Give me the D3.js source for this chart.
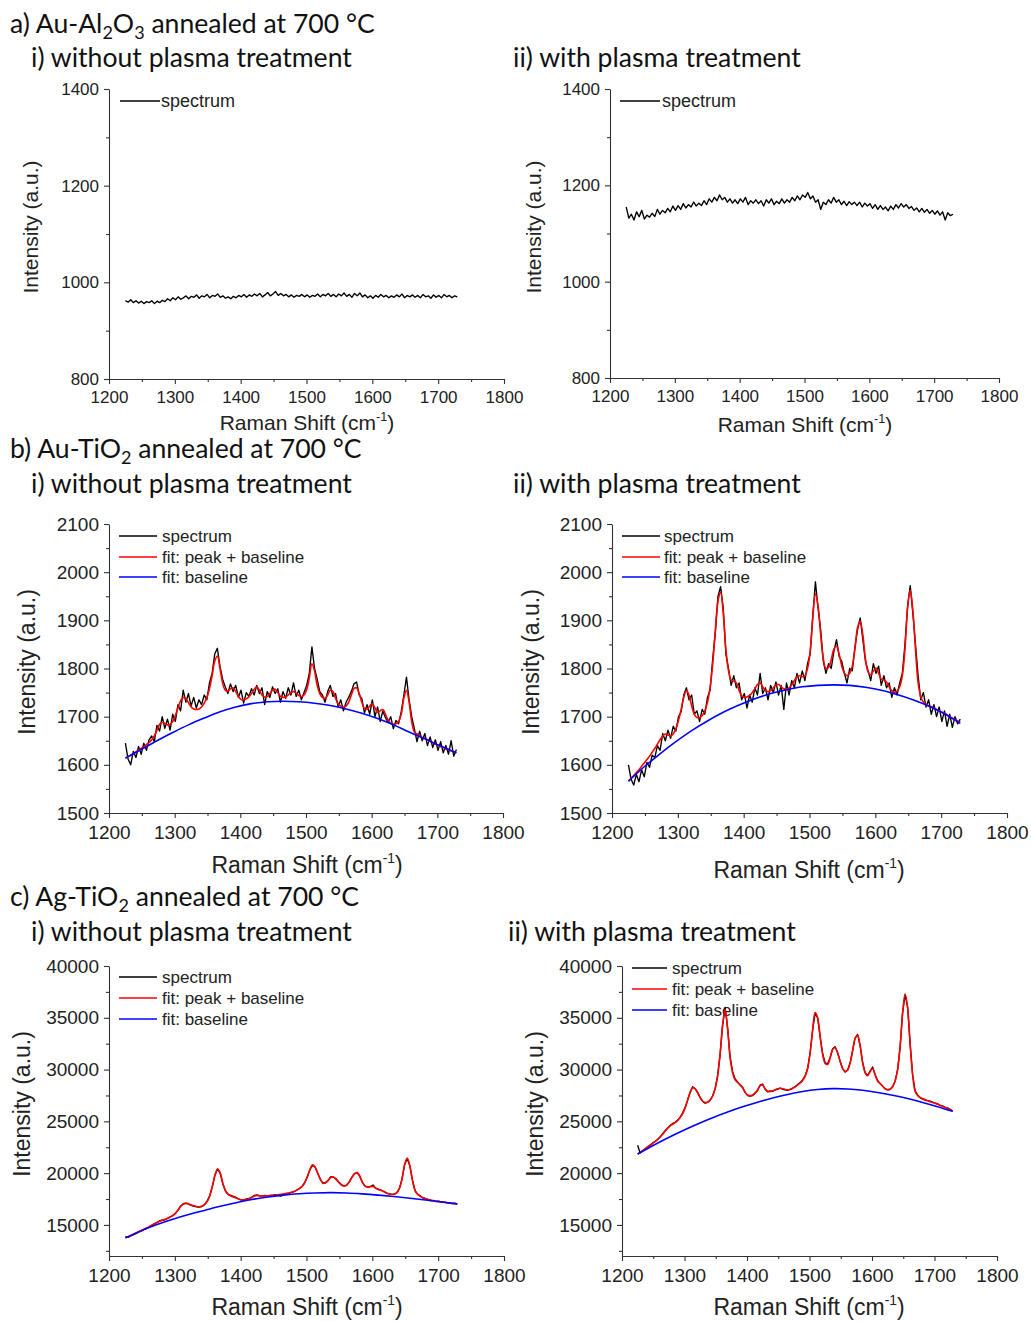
<!DOCTYPE html>
<html>
<head>
<meta charset="utf-8">
<script src="https://cdn.jsdelivr.net/npm/d3@7"></script>
<style>
  body { margin: 0; background: #fff; }
  svg { display: block; }
</style>
</head>
<body>
<svg id="chart" width="1031" height="1322"></svg>
<script>
// Raman shift grids (cm-1)
const shift = d3.range(1225, 1730, 4)
const baseShift = d3.range(1225, 1730, 24)
const xMajor = [1200, 1300, 1400, 1500, 1600, 1700, 1800]
const xMinor = [1250, 1350, 1450, 1550, 1650, 1750]

// a) Au-Al2O3
const auAlNoPlasma = [
  962, 959, 964, 958, 962, 957, 961, 956, 960, 958,
  962, 956, 961, 958, 963, 960, 966, 962, 968, 964,
  970, 965, 968, 972, 966, 971, 969, 974, 967, 972,
  970, 975, 968, 973, 971, 976, 969, 972, 967, 970,
  966, 971, 968, 973, 970, 975, 969, 974, 971, 976,
  972, 977, 970, 974, 979, 972, 976, 981, 973, 977,
  972, 975, 970, 974, 969, 973, 971, 975, 970, 974,
  969, 973, 971, 976, 970, 975, 972, 977, 971, 975,
  970, 976, 972, 978, 971, 975, 969, 977, 972, 978,
  970, 974, 968, 972, 967, 973, 969, 975, 970, 973,
  968, 972, 969, 974, 970, 976, 968, 973, 970, 974,
  969, 973, 968, 975, 970, 972, 967, 974, 969, 973,
  968, 975, 970, 973, 968, 972, 970
]
const auAlPlasma = [
  1155, 1132, 1140, 1128, 1145, 1135, 1148, 1130, 1138, 1134,
  1142, 1135, 1150, 1140, 1148, 1143, 1152, 1145, 1157, 1148,
  1158, 1150, 1162, 1153, 1160, 1155, 1165, 1157, 1163, 1158,
  1168, 1160, 1172, 1165, 1175, 1168, 1180, 1170, 1175, 1165,
  1172, 1163, 1170, 1162, 1172, 1165, 1175, 1160, 1168, 1163,
  1170, 1162, 1168, 1157, 1170, 1163, 1172, 1160, 1167, 1162,
  1172, 1163, 1170, 1165, 1175, 1168, 1178, 1170, 1180, 1175,
  1185, 1172, 1178, 1165, 1170, 1150, 1165, 1160, 1170, 1163,
  1175, 1165, 1170, 1160, 1167, 1158, 1166, 1160, 1165, 1158,
  1165, 1155, 1163, 1157, 1162, 1152, 1160, 1150, 1158, 1150,
  1155, 1147, 1157, 1150, 1160, 1153, 1162, 1155, 1160, 1152,
  1156, 1148, 1153, 1145, 1152, 1144, 1150, 1142, 1148, 1140,
  1147, 1138, 1145, 1128, 1143, 1137, 1140
]

// b) Au-TiO2
const auTiNoPlasma = [
  1645, 1612, 1600, 1628, 1615, 1638, 1622, 1645, 1630, 1652,
  1660, 1648, 1682, 1670, 1700, 1676, 1695, 1672, 1705, 1690,
  1725, 1712, 1755, 1730, 1748, 1722, 1740, 1718, 1735, 1725,
  1745, 1735, 1770, 1790, 1830, 1842, 1805, 1778, 1762, 1748,
  1768, 1752, 1765, 1740, 1755, 1728, 1750, 1742, 1758, 1745,
  1765, 1748, 1760, 1725, 1752, 1740, 1762, 1748, 1758, 1730,
  1752, 1738, 1760, 1745, 1770, 1742, 1755, 1735, 1750, 1765,
  1790, 1845, 1800, 1778, 1752, 1745, 1730, 1752, 1765, 1742,
  1748, 1720, 1735, 1712, 1730, 1740, 1752, 1768, 1772, 1745,
  1738, 1708, 1725, 1705, 1735, 1700, 1720, 1690, 1712, 1698,
  1688, 1700, 1675, 1692, 1685, 1710, 1745, 1782, 1735, 1700,
  1675, 1648, 1670, 1650, 1665, 1640, 1658, 1636, 1652, 1630,
  1648, 1625, 1640, 1622, 1650, 1618, 1632
]
const auTiNoPlasmaFit = [
  1614, 1617, 1620, 1623, 1627, 1631, 1634, 1638, 1642, 1646,
  1652, 1660, 1672, 1684, 1688, 1686, 1683, 1684, 1690, 1702,
  1718, 1733, 1740, 1738, 1729, 1720, 1716, 1715, 1716, 1720,
  1728, 1740, 1758, 1785, 1815, 1826, 1800, 1770, 1755, 1753,
  1758, 1760, 1752, 1742, 1736, 1735, 1737, 1741, 1748, 1757,
  1762, 1755, 1745, 1741, 1742, 1748, 1755, 1757, 1750, 1742,
  1740, 1741, 1745, 1750, 1752, 1749, 1744, 1742, 1745, 1756,
  1780, 1810, 1795, 1765, 1748, 1740, 1738, 1745, 1755, 1752,
  1738, 1727, 1722, 1720, 1722, 1730, 1745, 1758, 1760, 1748,
  1730, 1717, 1715, 1722, 1727, 1718, 1709, 1712, 1715, 1705,
  1693, 1686, 1684, 1685, 1690, 1705, 1738, 1755, 1730, 1690,
  1668, 1664, 1660, 1657, 1655, 1652, 1649, 1646, 1643, 1640,
  1638, 1636, 1633, 1631, 1629, 1627, 1625
]
const auTiNoPlasmaBase = [
  1614, 1632, 1650, 1667, 1683, 1697, 1710, 1720, 1727, 1731, 1732,
  1731, 1728, 1723, 1716, 1707, 1696, 1683, 1668, 1654, 1639, 1625
]
const auTiPlasma = [
  1600, 1570, 1558, 1580, 1565, 1590, 1575, 1605, 1595, 1620,
  1615, 1640, 1630, 1665, 1650, 1672, 1655, 1680, 1670, 1700,
  1710, 1745, 1760, 1735, 1745, 1705, 1712, 1690, 1715, 1705,
  1740, 1755, 1820, 1875, 1950, 1970, 1925, 1830, 1800, 1765,
  1785, 1760, 1770, 1735, 1748, 1718, 1745, 1730, 1760, 1745,
  1790, 1748, 1760, 1735, 1765, 1750, 1772, 1745, 1765, 1715,
  1770, 1745, 1775, 1760, 1790, 1770, 1795, 1775, 1810, 1830,
  1910, 1980, 1925, 1880, 1815, 1790, 1810, 1800, 1835, 1860,
  1825, 1815, 1790, 1770, 1800, 1795, 1845, 1880, 1905, 1860,
  1815, 1795, 1775, 1810, 1790, 1805, 1765, 1785, 1760, 1770,
  1740, 1760, 1745, 1770, 1790, 1850, 1930, 1972, 1915, 1850,
  1785, 1735, 1750, 1720, 1735, 1705, 1725, 1700, 1720, 1690,
  1712, 1680, 1705, 1678, 1700, 1685, 1695
]
const auTiPlasmaFit = [
  1566, 1572, 1578, 1584, 1590, 1597, 1604, 1611, 1618, 1626,
  1634, 1643, 1652, 1660, 1664, 1662, 1660, 1664, 1675, 1692,
  1715, 1740, 1754, 1745, 1722, 1705, 1698, 1698, 1702, 1712,
  1730, 1760, 1810, 1880, 1940, 1958, 1915, 1840, 1795, 1776,
  1774, 1770, 1755, 1743, 1740, 1741, 1744, 1750, 1758, 1767,
  1770, 1762, 1754, 1752, 1754, 1760, 1766, 1767, 1762, 1758,
  1757, 1760, 1766, 1775, 1783, 1785, 1783, 1785, 1800, 1835,
  1905, 1955, 1930, 1870, 1820, 1800, 1802, 1818, 1840, 1846,
  1830, 1805, 1790, 1785, 1790, 1805, 1840, 1885, 1898, 1870,
  1820, 1793, 1787, 1795, 1801, 1790, 1778, 1776, 1772, 1762,
  1754, 1751, 1753, 1762, 1785, 1840, 1925, 1963, 1920, 1840,
  1770, 1742, 1730, 1726, 1722, 1721, 1718, 1715, 1712, 1709,
  1707, 1704, 1700, 1697, 1694, 1691, 1688
]
const auTiPlasmaBase = [
  1566, 1596, 1623, 1648, 1671, 1691, 1709, 1724, 1737, 1748, 1756,
  1762, 1765, 1766, 1765, 1761, 1755, 1746, 1735, 1722, 1706, 1686
]

// c) Ag-TiO2
const agTiNoPlasma = [
  13900, 13800, 13950, 14050, 14150, 14300, 14400, 14550, 14650, 14800,
  14950, 15100, 15250, 15400, 15450, 15500, 15620, 15780, 15900, 16100,
  16450, 16850, 17000, 17080, 17000, 16900, 16800, 16750, 16730, 16780,
  16950, 17300, 17800, 18750, 19850, 20400, 19950, 18950, 18250, 17950,
  17850, 17750, 17650, 17500, 17400, 17450, 17500, 17550, 17700, 17850,
  17900, 17800, 17780, 17850, 17800, 17860, 17880, 17920, 17850, 17780,
  17950, 18050, 18050, 18150, 18200, 18350, 18500, 18700, 19050, 19600,
  20300, 20750, 20600, 20000, 19400, 19000, 19100, 19300, 19650, 19600,
  19450, 19150, 18900, 18750, 18850, 19150, 19600, 19950, 20050, 19700,
  19100, 18750, 18650, 18700, 18850, 18550, 18450, 18350, 18250, 18100,
  18000, 17950, 17950, 18100, 18500, 19400, 20800, 21400, 20700, 19300,
  18300, 17950, 17800, 17600, 17550, 17450, 17350, 17350, 17250, 17300,
  17200, 17200, 17150, 17100, 17050, 17100, 17000
]
const agTiNoPlasmaFit = [
  13750, 13860, 13980, 14100, 14220, 14340, 14460, 14580, 14700, 14830,
  14970, 15110, 15240, 15350, 15450, 15540, 15640, 15760, 15920, 16150,
  16450, 16800, 17050, 17120, 17030, 16920, 16850, 16780, 16760, 16800,
  16950, 17250, 17800, 18700, 19800, 20400, 20000, 19000, 18300, 17950,
  17800, 17700, 17600, 17500, 17430, 17420, 17450, 17530, 17650, 17800,
  17850, 17800, 17800, 17800, 17810, 17830, 17860, 17890, 17920, 17950,
  17990, 18030, 18080, 18150, 18240, 18360, 18500, 18700, 19050, 19600,
  20300, 20800, 20600, 20000, 19400, 19050, 19050, 19300, 19600, 19620,
  19400, 19100, 18850, 18750, 18850, 19150, 19600, 19950, 20050, 19700,
  19100, 18750, 18650, 18700, 18720, 18560, 18420, 18350, 18230, 18100,
  18000, 17960, 17980, 18100, 18500, 19400, 20800, 21450, 20700, 19300,
  18300, 17950, 17750, 17620, 17530, 17460, 17400, 17350, 17300, 17260,
  17230, 17190, 17150, 17110, 17080, 17050, 17030
]
const agTiNoPlasmaBase = [
  13750, 14450, 15050, 15550, 16000, 16400, 16800, 17150, 17450, 17700, 17880,
  18010, 18090, 18120, 18090, 18000, 17880, 17740, 17580, 17400, 17220, 17030
]
const agTiPlasma = [
  22700, 21950, 22150, 22350, 22550, 22700, 22900, 23050, 23250, 23500,
  23800, 24100, 24350, 24600, 24800, 24900, 25100, 25400, 25800, 26350,
  27050, 27800, 28350, 28150, 27800, 27300, 26950, 26750, 26850, 27050,
  27450, 28150, 29400, 31500, 34300, 36000, 34000, 31200, 29800, 29100,
  28800, 28500, 28300, 27800, 27500, 27450, 27500, 27700, 28000, 28500,
  28600, 28100, 27850, 27950, 27900, 28050, 28100, 28200, 28100, 28050,
  28000, 28100, 28200, 28350, 28550, 28750, 29000, 29400, 30100, 31650,
  33800, 35450, 35000, 33200, 31550, 30650, 30550, 31150, 32000, 32200,
  31650, 30800, 30100, 29750, 29950, 30650, 31850, 33050, 33400, 32300,
  30700, 29700, 29450, 29850, 30250, 29500, 28950, 28650, 28400, 28150,
  28050, 28100, 28350, 28900, 30000, 32200, 35500, 37250, 36000, 32500,
  29500, 27950, 27550, 27300, 27200, 27100, 27000, 26950, 26850, 26750,
  26700, 26550, 26500, 26350, 26300, 26150, 26000
]
const agTiPlasmaFit = [
  21850, 22000, 22170, 22340, 22520, 22700, 22880, 23060, 23250, 23480,
  23750, 24050, 24330, 24560, 24720, 24880, 25100, 25380, 25750, 26300,
  27050, 27800, 28250, 28150, 27750, 27300, 26950, 26820, 26850, 27050,
  27450, 28150, 29400, 31500, 34300, 35800, 33900, 31100, 29700, 29000,
  28750, 28550, 28250, 27800, 27550, 27480, 27550, 27750, 28050, 28450,
  28500, 28150, 27900, 27880, 27950, 28050, 28150, 28200, 28150, 28080,
  28050, 28080, 28180, 28330, 28500, 28700, 28950, 29350, 30100, 31600,
  33800, 35500, 35000, 33200, 31500, 30600, 30500, 31100, 31950, 32100,
  31600, 30800, 30100, 29820, 29950, 30600, 31800, 33000, 33300, 32300,
  30700, 29700, 29400, 29800, 30100, 29500, 28900, 28650, 28400, 28150,
  28050, 28100, 28350, 28900, 30000, 32200, 35500, 37300, 36000, 32500,
  29500, 27900, 27500, 27300, 27150, 27050, 26980, 26900, 26820, 26740,
  26650, 26550, 26450, 26350, 26240, 26120, 25980
]
const agTiPlasmaBase = [
  21850, 22650, 23400, 24100, 24750, 25350, 25900, 26400, 26850, 27250, 27600,
  27880, 28070, 28160, 28130, 28000, 27790, 27520, 27200, 26830, 26420, 25970
]

const legendNames = ['spectrum', 'fit: peak + baseline', 'fit: baseline']
const colors = ['#000000', '#ff0000', '#0000ff']

const svg = d3.select('#chart')
const AXIS_FONT = '"Liberation Sans", Arial, sans-serif'
const TITLE_FONT = 'Lato, Carlito, Calibri, sans-serif'

function title(x, y, parts) {
    const t = svg.append('text')
        .attr('x', x).attr('y', y)
        .style('font-family', TITLE_FONT)
        .style('font-size', '26.6px')
        .attr('fill', '#111')
    let back = 0
    parts.forEach(p => {
        if (typeof p === 'string') {
            t.append('tspan').attr('dy', -back).text(p)
            back = 0
        } else {
            t.append('tspan').attr('dy', 6 - back).style('font-size', '18px').text(p.sub)
            back = 6
        }
    })
}

function fullSpectrum(vals, fit, base) {
    const out = [{ xs: shift, vs: vals, color: colors[0], w: 1.35, curve: d3.curveLinear }]
    if (fit) out.push({ xs: shift, vs: fit, color: colors[1], w: 1.6, curve: d3.curveCatmullRom })
    if (base) out.push({ xs: baseShift, vs: base, color: colors[2], w: 1.6, curve: d3.curveCatmullRom })
    return out
}

function drawPanel(p) {
    const x = d3.scaleLinear().domain([1200, 1800]).range([p.left, p.right])
    const y = d3.scaleLinear().domain(p.yDomain).range([p.bottom, p.top])
    const g = svg.append('g').attr('class', 'panel')

    g.append('g')
        .attr('transform', `translate(0,${p.bottom})`)
        .call(d3.axisBottom(x).tickValues(xMinor).tickSize(3).tickSizeOuter(0).tickFormat(''))
        .call(a => a.select('.domain').remove())
    g.append('g')
        .attr('transform', `translate(${p.left},0)`)
        .call(d3.axisLeft(y).tickValues(p.yMinor).tickSize(3).tickSizeOuter(0).tickFormat(''))
        .call(a => a.select('.domain').remove())

    g.append('g')
        .attr('transform', `translate(0,${p.bottom})`)
        .call(d3.axisBottom(x).tickValues(xMajor).tickSize(5).tickSizeOuter(0)
            .tickPadding(p.xPad).tickFormat(d3.format('d')))
    g.append('g')
        .attr('transform', `translate(${p.left},0)`)
        .call(d3.axisLeft(y).tickValues(p.yMajor).tickSize(5).tickSizeOuter(0)
            .tickPadding(5).tickFormat(d3.format('d')))

    g.selectAll('.domain, .tick line').attr('stroke', '#333').attr('stroke-width', 1.1)
    g.selectAll('.tick text')
        .style('font-family', AXIS_FONT)
        .style('font-size', p.tick + 'px')
        .attr('fill', '#222')

    // axis titles
    const xl = g.append('text')
        .attr('x', p.xLab[0]).attr('y', p.xLab[1])
        .attr('text-anchor', 'middle')
        .style('font-family', AXIS_FONT).style('font-size', p.lab + 'px')
        .attr('fill', '#222')
    xl.append('tspan').text('Raman Shift (cm')
    xl.append('tspan').attr('dy', -p.lab * 0.42).style('font-size', (p.lab * 0.6) + 'px').text('-1')
    xl.append('tspan').attr('dy', p.lab * 0.42).text(')')

    g.append('text')
        .attr('transform', `translate(${p.yLab[0]},${p.yLab[1]}) rotate(-90)`)
        .attr('text-anchor', 'middle')
        .style('font-family', AXIS_FONT).style('font-size', p.lab + 'px')
        .attr('fill', '#222')
        .text('Intensity (a.u.)')

    // legend
    p.series.forEach((s, i) => {
        const ly = p.legend.ys[i]
        g.append('line')
            .attr('x1', p.legend.x).attr('x2', p.legend.x + p.legend.len)
            .attr('y1', ly).attr('y2', ly)
            .attr('stroke', s.color).attr('stroke-width', 1.5)
        g.append('text')
            .attr('x', p.legend.tx).attr('y', ly).attr('dy', '0.35em')
            .style('font-family', AXIS_FONT).style('font-size', p.legend.size + 'px')
            .attr('fill', '#222')
            .text(legendNames[i])
    })

    // data
    p.series.forEach(s => {
        const line = d3.line()
            .x((d, i) => x(s.xs[i]))
            .y(d => y(d))
            .curve(s.curve)
        g.append('path')
            .datum(s.vs)
            .attr('d', line)
            .attr('fill', 'none')
            .attr('stroke', s.color)
            .attr('stroke-width', s.w)
            .attr('stroke-linejoin', 'round')
    })
}

const aMajor = [800, 1000, 1200, 1400], aMinor = [900, 1100, 1300]
const bMajor = [1500, 1600, 1700, 1800, 1900, 2000, 2100]
const bMinor = [1550, 1650, 1750, 1850, 1950, 2050]
const cMajor = [15000, 20000, 25000, 30000, 35000, 40000]
const cMinor = [12500, 17500, 22500, 27500, 32500, 37500]

const panels = [
    { left: 109, right: 504, top: 89, bottom: 379, yDomain: [800, 1400], yMajor: aMajor, yMinor: aMinor,
      tick: 17, xPad: 7, lab: 21, xLab: [307, 430], yLab: [38, 227],
      legend: { x: 120, len: 40, tx: 161, ys: [101], size: 18 },
      series: fullSpectrum(auAlNoPlasma) },
    { left: 610, right: 999, top: 89, bottom: 378, yDomain: [800, 1400], yMajor: aMajor, yMinor: aMinor,
      tick: 17, xPad: 7, lab: 21, xLab: [805, 432], yLab: [541, 227],
      legend: { x: 620, len: 40, tx: 662, ys: [101], size: 18 },
      series: fullSpectrum(auAlPlasma) },
    { left: 109, right: 503, top: 524, bottom: 813, yDomain: [1500, 2100], yMajor: bMajor, yMinor: bMinor,
      tick: 19, xPad: 8, lab: 23, xLab: [307, 873], yLab: [35, 662],
      legend: { x: 119, len: 38, tx: 162, ys: [536, 557, 577], size: 17 },
      series: fullSpectrum(auTiNoPlasma, auTiNoPlasmaFit, auTiNoPlasmaBase) },
    { left: 612, right: 1007, top: 524, bottom: 813, yDomain: [1500, 2100], yMajor: bMajor, yMinor: bMinor,
      tick: 19, xPad: 8, lab: 23, xLab: [809, 878], yLab: [539, 662],
      legend: { x: 622, len: 38, tx: 664, ys: [536, 557, 577], size: 17 },
      series: fullSpectrum(auTiPlasma, auTiPlasmaFit, auTiPlasmaBase) },
    { left: 109, right: 504, top: 966, bottom: 1256, yDomain: [12000, 40000], yMajor: cMajor, yMinor: cMinor,
      tick: 19, xPad: 8, lab: 23, xLab: [307, 1315], yLab: [30, 1104],
      legend: { x: 119, len: 38, tx: 162, ys: [977, 998, 1019], size: 17 },
      series: fullSpectrum(agTiNoPlasma, agTiNoPlasmaFit, agTiNoPlasmaBase) },
    { left: 622, right: 997, top: 966, bottom: 1256, yDomain: [12000, 40000], yMajor: cMajor, yMinor: cMinor,
      tick: 19, xPad: 8, lab: 23, xLab: [809, 1315], yLab: [543, 1104],
      legend: { x: 632, len: 35, tx: 672, ys: [968, 989, 1010], size: 17 },
      series: fullSpectrum(agTiPlasma, agTiPlasmaFit, agTiPlasmaBase) }
]

panels.forEach(drawPanel)

title(10, 33, ['a) Au-Al', { sub: '2' }, 'O', { sub: '3' }, ' annealed at 700 °C'])
title(31, 67, ['i) without plasma treatment'])
title(513, 67, ['ii) with plasma treatment'])
title(10, 458, ['b) Au-TiO', { sub: '2' }, ' annealed at 700 °C'])
title(31, 493, ['i) without plasma treatment'])
title(513, 493, ['ii) with plasma treatment'])
title(10, 906, ['c) Ag-TiO', { sub: '2' }, ' annealed at 700 °C'])
title(31, 941, ['i) without plasma treatment'])
title(508, 941, ['ii) with plasma treatment'])
</script>
</body>
</html>
